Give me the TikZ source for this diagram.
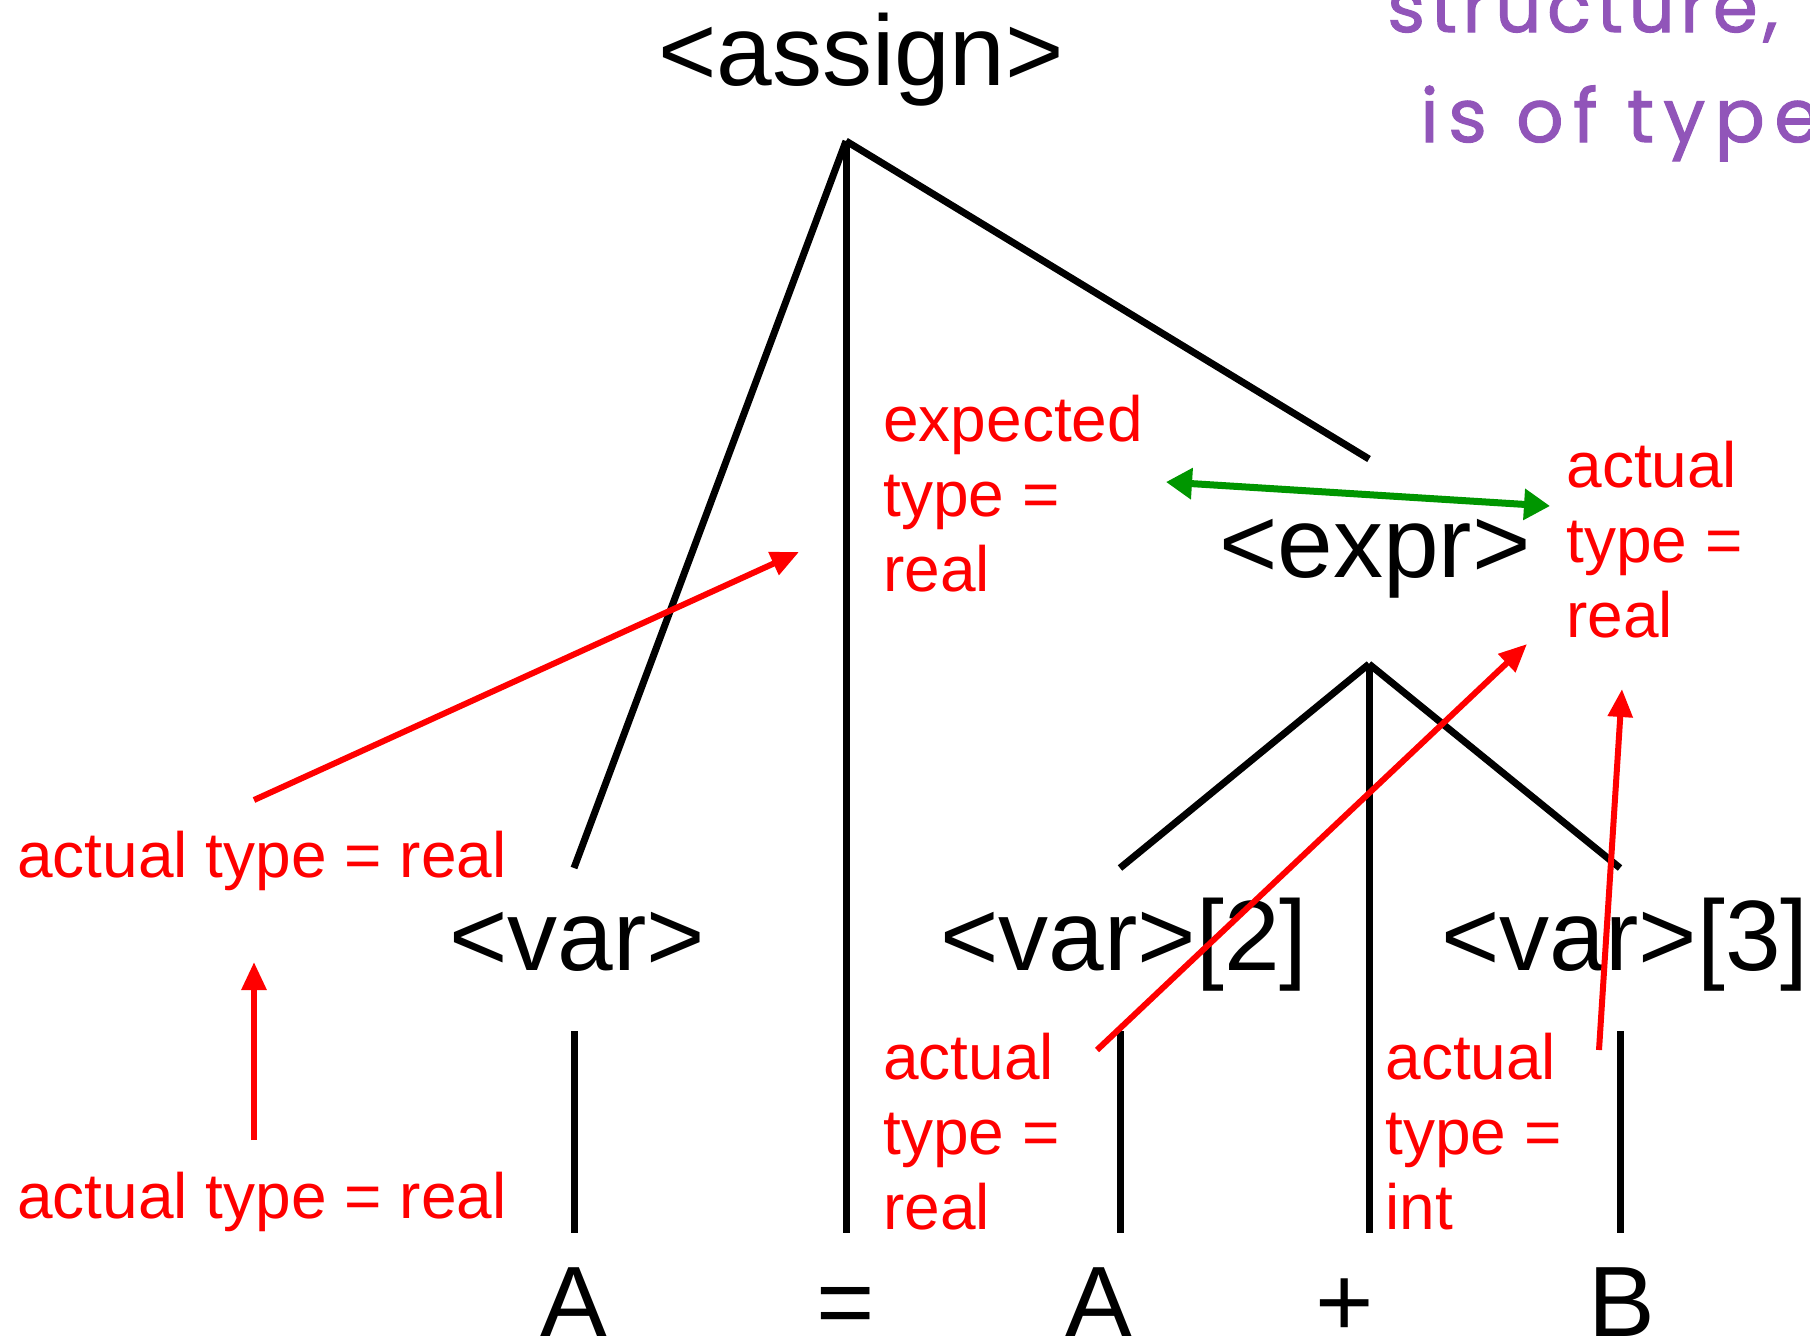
\documentclass[tikz,border=0pt]{standalone}
\usepackage{fontspec}
\setmainfont{Liberation Sans}
\newfontfamily\handfont[LetterSpace=8,FakeBold=1.5]{Poppins}
\newfontfamily\handfontwide[LetterSpace=13,FakeBold=1.5]{Poppins}
\usetikzlibrary{arrows.meta}
\definecolor{redlab}{RGB}{255,0,0}
\definecolor{greenarr}{RGB}{0,150,0}
\definecolor{purp}{RGB}{145,85,185}
\begin{document}
\begin{tikzpicture}[x=0.5pt,y=-0.5pt,
  nt/.style={inner sep=0pt, anchor=base, font=\fontsize{50}{60}\selectfont},
  lab/.style={inner sep=0pt, anchor=base west, text=redlab, align=left, font=\fontsize{32}{37.5}\selectfont},
  hand/.style={inner sep=0pt, anchor=base west, text=purp},
  tree/.style={line width=3.5pt},
  redarrow/.style={draw=redlab, line width=3pt, -{Triangle[length=14pt,width=12pt]}},
  greenarrow/.style={draw=greenarr, line width=3.5pt, {Triangle[length=13pt,width=15pt]}-{Triangle[length=13pt,width=15pt]}}
]
\clip (0,0) rectangle (1810,1341);
\fill[white] (0,0) rectangle (1810,1341);

% purple handwritten note
\node[hand, font=\handfont\fontsize{36}{40}\selectfont] (note1) at (1387,32) {structure,};
\node[hand, font=\handfontwide\fontsize{37}{40}\selectfont] (note2) at (1420,142) {is of type};

% nonterminals
\node[nt] (assign) at (861,85) {<assign>};
\node[nt] (expr) at (1375,577) {<expr>};
\node[nt] (var) at (577,970) {<var>};
\node[nt] (var2) at (1124,970) {<var>[2]};
\node[nt] (var3) at (1625,970) {<var>[3]};

% terminals
\node[nt] (tA) at (574,1336) {A};
\node[nt] (teq) at (846,1336) {=};
\node[nt] (tA2) at (1099,1336) {A};
\node[nt] (tplus) at (1345,1336) {+};
\node[nt] (tB) at (1622,1336) {B};

% tree line end points
\coordinate (aF) at (846,141);
\coordinate (varT) at (574,868);
\coordinate (eqT) at (846,1233);
\coordinate (exprT) at (1369,459);
\coordinate (eF) at (1369,664);
\coordinate (v2T) at (1120,868);
\coordinate (plusT) at (1369,1233);
\coordinate (v3T) at (1620,868);
\coordinate (varB) at (574,1031);
\coordinate (AT) at (574,1233);
\coordinate (v2B) at (1120,1031);
\coordinate (A2T) at (1120,1233);
\coordinate (v3B) at (1620,1031);
\coordinate (BT) at (1620,1233);

\draw[tree] (aF) -- (varT);
\draw[tree] (aF) -- (eqT);
\draw[tree] (aF) -- (exprT);
\draw[tree] (eF) -- (v2T);
\draw[tree] (eF) -- (plusT);
\draw[tree] (eF) -- (v3T);
\draw[tree] (varB) -- (AT);
\draw[tree] (v2B) -- (A2T);
\draw[tree] (v3B) -- (BT);

% red labels (base = baseline of last line)
\node[lab] (l1) at (17,877) {actual type = real};
\node[lab] (l2) at (17,1218) {actual type = real};
\node[lab] (l3) at (883,591) {expected\\type =\\real};
\node[lab] (l4) at (1566,637) {actual\\type =\\real};
\node[lab] (l5) at (883,1229) {actual\\type =\\real};
\node[lab] (l6) at (1385,1229) {actual\\type =\\int};

% red arrows
\coordinate (r1s) at (254,800);
\coordinate (r1e) at (799,552);
\coordinate (r2s) at (254,1140);
\coordinate (r2e) at (254,962);
\coordinate (r3s) at (1097,1050);
\coordinate (r3e) at (1527,644);
\coordinate (r4s) at (1599,1050);
\coordinate (r4e) at (1622,689);
\draw[redarrow] (r1s) -- (r1e);
\draw[redarrow] (r2s) -- (r2e);
\draw[redarrow] (r3s) -- (r3e);
\draw[redarrow] (r4s) -- (r4e);

% green double arrow
\coordinate (g1) at (1166,482);
\coordinate (g2) at (1550,506);
\draw[greenarrow] (g1) -- (g2);
\end{tikzpicture}
\end{document}
